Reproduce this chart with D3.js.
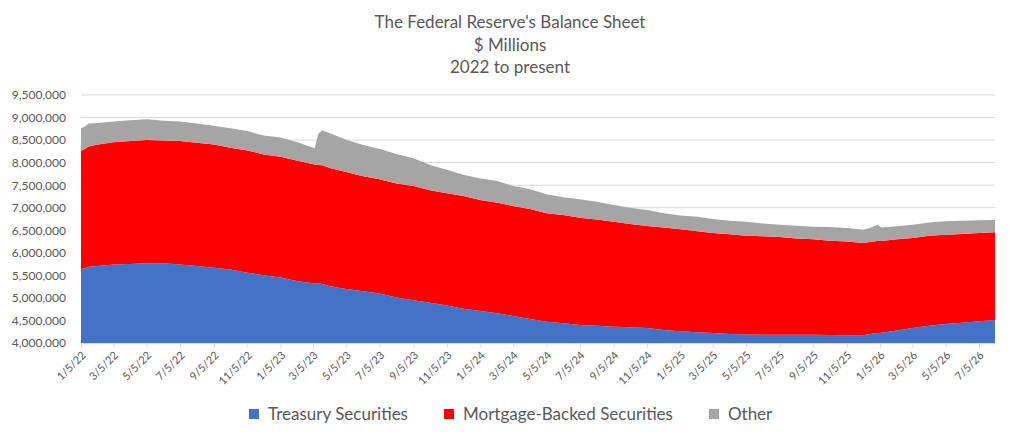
<!DOCTYPE html>
<html>
<head>
<meta charset="utf-8">
<script src="https://cdn.jsdelivr.net/npm/d3@7"></script>
<style>
  body { margin: 0; background: #fff; }
  text { font-family: Lato, "Noto Sans", sans-serif; fill: #595959; }
</style>
</head>
<body>
<svg id="chart" width="1021" height="437"></svg>
<script>
// readings, $ millions
const dates = [
  "2022-01-05","2022-01-12","2022-01-19","2022-02-05","2022-03-05","2022-04-05","2022-05-05","2022-06-05",
  "2022-07-05","2022-08-05","2022-09-05","2022-10-05","2022-11-05","2022-12-05","2023-01-05","2023-02-05",
  "2023-03-08","2023-03-15","2023-03-22","2023-04-05","2023-05-05","2023-06-05","2023-07-05","2023-08-05",
  "2023-09-05","2023-10-05","2023-11-05","2023-12-05","2024-01-05","2024-02-05","2024-03-05","2024-04-05",
  "2024-05-05","2024-06-05","2024-07-05","2024-08-05","2024-09-05","2024-10-05","2024-11-05","2024-12-05",
  "2025-01-05","2025-02-05","2025-03-05","2025-04-05","2025-05-05","2025-06-05","2025-07-05","2025-08-05",
  "2025-09-05","2025-10-05","2025-11-05","2025-12-05","2025-12-17","2025-12-31","2026-01-07","2026-02-05",
  "2026-03-05","2026-04-05","2026-05-05","2026-06-05","2026-07-05","2026-08-03"
];
const treasury = [
  5640000,5660000,5690000,5710000,5740000,5750000,5770000,5770000,
  5740000,5710000,5670000,5630000,5560000,5500000,5450000,5370000,
  5320000,5320000,5310000,5260000,5200000,5150000,5100000,5010000,
  4950000,4890000,4830000,4760000,4710000,4660000,4600000,4530000,
  4470000,4440000,4400000,4380000,4360000,4350000,4330000,4290000,
  4260000,4240000,4220000,4200000,4190000,4185000,4185000,4185000,
  4185000,4175000,4170000,4170000,4200000,4220000,4230000,4280000,
  4330000,4380000,4420000,4450000,4480000,4510000
];
const mbs = [
  2625000,2640000,2670000,2690000,2710000,2730000,2730000,2720000,
  2740000,2730000,2730000,2700000,2710000,2680000,2680000,2670000,
  2640000,2630000,2630000,2620000,2590000,2550000,2530000,2530000,
  2530000,2500000,2490000,2500000,2460000,2450000,2440000,2440000,
  2410000,2400000,2380000,2360000,2330000,2290000,2265000,2270000,
  2260000,2240000,2220000,2210000,2190000,2180000,2165000,2135000,
  2115000,2095000,2080000,2050000,2040000,2040000,2030000,2020000,
  2000000,2000000,1980000,1970000,1960000,1945000
];
const other = [
  495000,500000,510000,480000,460000,460000,460000,440000,
  430000,430000,420000,430000,430000,420000,430000,410000,
  360000,690000,780000,770000,720000,690000,670000,650000,
  620000,560000,520000,470000,480000,480000,440000,440000,
  420000,390000,410000,390000,370000,360000,355000,320000,
  310000,320000,310000,300000,310000,285000,270000,280000,
  280000,300000,300000,290000,310000,360000,300000,290000,
  290000,290000,300000,290000,280000,275000
];
const seriesNames = ["Treasury Securities", "Mortgage-Backed Securities", "Other"];
const seriesColors = ["#4472C4", "#FF0000", "#A5A5A5"];
const tickLabels = [
  "1/5/22","3/5/22","5/5/22","7/5/22","9/5/22","11/5/22",
  "1/5/23","3/5/23","5/5/23","7/5/23","9/5/23","11/5/23",
  "1/5/24","3/5/24","5/5/24","7/5/24","9/5/24","11/5/24",
  "1/5/25","3/5/25","5/5/25","7/5/25","9/5/25","11/5/25",
  "1/5/26","3/5/26","5/5/26","7/5/26"
];
const yTicks = d3.range(4000000, 9500001, 500000);
const titleLines = ["The Federal Reserve's Balance Sheet", "$ Millions", "2022 to present"];

const svg = d3.select("#chart");
const plotLeft = 81, plotRight = 995, plotTop = 95, plotBottom = 343;

const parseIso = d3.timeParse("%Y-%m-%d");
const parseTick = d3.timeParse("%m/%d/%y");

const rows = dates.map((d, i) => ({
  date: parseIso(d),
  treasury: treasury[i],
  mbs: mbs[i],
  other: other[i]
}));

const x = d3.scaleTime()
  .domain(d3.extent(rows, d => d.date))
  .range([plotLeft, plotRight]);

const y = d3.scaleLinear()
  .domain([4000000, 9500000])
  .range([plotBottom, plotTop])
  .clamp(true);

// gridlines
svg.append("g")
  .selectAll("line")
  .data(yTicks)
  .enter()
  .append("line")
  .attr("x1", plotLeft)
  .attr("x2", plotRight)
  .attr("y1", d => y(d))
  .attr("y2", d => y(d))
  .attr("stroke", "#D9D9D9")
  .attr("stroke-width", 1);

// stacked areas
const stack = d3.stack().keys(["treasury", "mbs", "other"]);
const layers = stack(rows);

const area = d3.area()
  .x(d => x(d.data.date))
  .y0(d => y(d[0]))
  .y1(d => y(d[1]));

svg.append("g")
  .selectAll("path")
  .data(layers)
  .enter()
  .append("path")
  .attr("d", area)
  .attr("fill", (d, i) => seriesColors[i]);

// y axis labels
const yAxis = d3.axisLeft(y)
  .tickValues(yTicks)
  .tickFormat(d3.format(","))
  .tickSize(0)
  .tickPadding(15);

svg.append("g")
  .attr("transform", `translate(${plotLeft},0)`)
  .call(yAxis)
  .call(g => g.select(".domain").remove())
  .selectAll("text")
  .style("font-size", "12px")
  .attr("fill", "#595959");

// x axis
const xAxis = d3.axisBottom(x)
  .tickValues(tickLabels.map(t => parseTick(t)))
  .tickFormat((d, i) => tickLabels[i])
  .tickSizeInner(5)
  .tickSizeOuter(0);

const xg = svg.append("g")
  .attr("transform", `translate(0,${plotBottom})`)
  .call(xAxis);

xg.select(".domain").attr("stroke", "#D9D9D9");
xg.selectAll(".tick line").attr("stroke", "#D9D9D9");
xg.selectAll(".tick text")
  .style("font-size", "11px")
  .attr("fill", "#595959")
  .attr("text-anchor", "end")
  .attr("y", 0)
  .attr("dy", 0)
  .attr("transform", "translate(5,13) rotate(-45)");

// title
svg.append("g")
  .selectAll("text")
  .data(titleLines)
  .enter()
  .append("text")
  .attr("x", 510)
  .attr("y", (d, i) => 28 + i * 22.5)
  .attr("text-anchor", "middle")
  .style("font-size", "17px")
  .text(d => d);

// legend
const legend = svg.append("g");
let lx = 249;
seriesNames.forEach((name, i) => {
  legend.append("rect")
    .attr("x", lx)
    .attr("y", 409)
    .attr("width", 10)
    .attr("height", 10)
    .attr("fill", seriesColors[i]);
  const t = legend.append("text")
    .attr("x", lx + 19)
    .attr("y", 420)
    .style("font-size", "17px")
    .text(name);
  lx += 19 + t.node().getComputedTextLength() + 36;
});
</script>
</body>
</html>
